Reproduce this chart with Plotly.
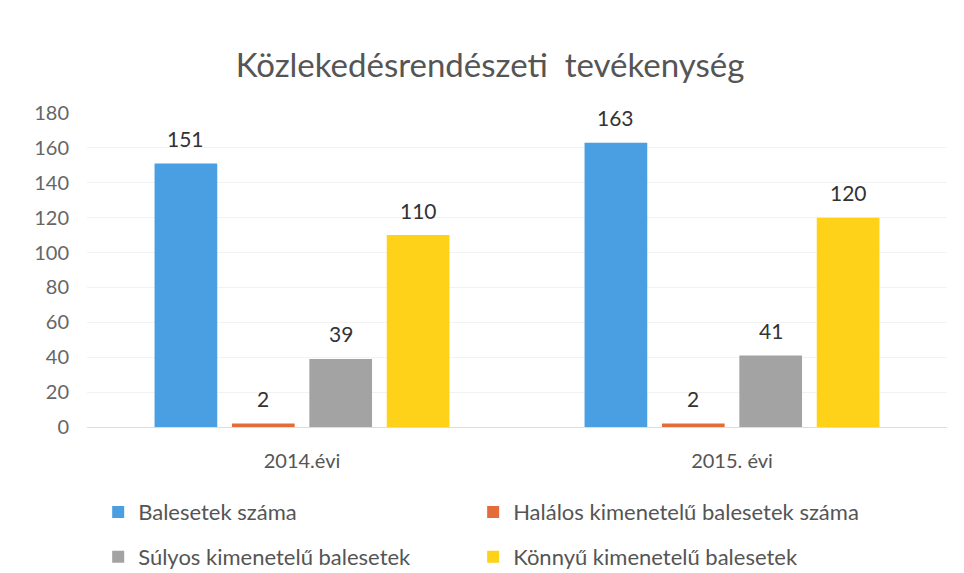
import plotly.graph_objects as go

# Data
years = ["2014.évi", "2015. évi"]
balesetek = [151, 163]
halalos = [2, 2]
sulyos = [39, 41]
konnyu = [110, 120]

series = [
    ("Balesetek száma", balesetek, "#4A9FE3"),
    ("Halálos kimenetelű balesetek száma", halalos, "#E46C3A"),
    ("Súlyos kimenetelű balesetek", sulyos, "#A3A3A3"),
    ("Könnyű kimenetelű balesetek", konnyu, "#FFD21A"),
]
# one legend per entry, laid out as a 2x2 grid below the plot
legend_ids = ["legend", "legend2", "legend3", "legend4"]
legend_pos = [(0.013, -0.271), (0.449, -0.271), (0.013, -0.414), (0.449, -0.414)]

font = "Lato, 'Open Sans', sans-serif"
slot = 77.5  # px between neighbouring bars in a group

fig = go.Figure()
for j, (name, vals, color) in enumerate(series):
    fig.add_trace(go.Bar(
        x=years, y=vals, name=name, marker=dict(color=color, line=dict(width=0)),
        legend=legend_ids[j],
    ))
    # value labels a bit above each bar
    for i, v in enumerate(vals):
        fig.add_annotation(x=years[i], y=v, text=str(v), showarrow=False,
                           xshift=(j - 1.5) * slot, yshift=25,
                           font=dict(size=21, color="#333333", family=font))

legends = {}
for lid, (lx, ly) in zip(legend_ids, legend_pos):
    legends[lid] = dict(
        x=lx, y=ly, xanchor="left", yanchor="middle", orientation="h",
        font=dict(size=22, color="#555555", family=font),
        itemwidth=30, bgcolor="rgba(0,0,0,0)",
    )

fig.update_layout(
    width=964, height=573,
    paper_bgcolor="white", plot_bgcolor="white",
    margin=dict(l=79, r=25, t=105, b=154, autoexpand=False),
    title=dict(text="Közlekedésrendészeti  tevékenység", x=0.5, xanchor="center",
               y=0.9, yanchor="middle",
               font=dict(size=33, color="#555555", family=font)),
    barmode="group", bargap=0.28, bargroupgap=0.19,
    showlegend=True,
    font=dict(family=font),
    **legends,
)

fig.update_xaxes(showgrid=False, showline=False, ticks="", ticklabelstandoff=20,
                 tickfont=dict(size=20, color="#555555", family=font))
fig.update_yaxes(range=[0, 180], dtick=20, showgrid=True, gridcolor="#f2f2f2",
                 zeroline=True, zerolinecolor="#dddddd", zerolinewidth=1,
                 showline=False, ticks="", ticklabelstandoff=17,
                 tickfont=dict(size=20, color="#666666", family=font))

fig.write_html("out.html")
